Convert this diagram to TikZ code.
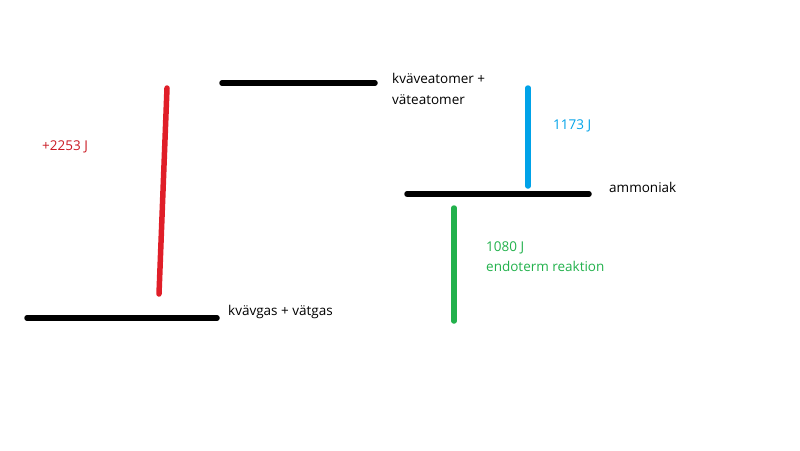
\documentclass[tikz,border=0pt]{standalone}
\usepackage{fontspec}
\setmainfont{Open Sans}
\definecolor{pred}{HTML}{E01E28}
\definecolor{pblue}{HTML}{00A2E8}
\definecolor{pgreen}{HTML}{22B14C}
\begin{document}
\begin{tikzpicture}[x=1pt,y=-1pt,
  level/.style={line width=5.5pt,line cap=round,black},
  stroke/.style={line width=5.5pt,line cap=round},
  lbl/.style={anchor=base west,inner sep=0pt,font=\fontsize{13.5}{16}\selectfont}]
\useasboundingbox (0,0) rectangle (800,450);
% levels
\coordinate (g1) at (27,318); \coordinate (g2) at (217,318);
\coordinate (a1) at (222,83); \coordinate (a2) at (375,83);
\coordinate (n1) at (407,194); \coordinate (n2) at (589,194);
\draw[level] (g1) -- (g2);
\draw[level] (a1) -- (a2);
\draw[level] (n1) -- (n2);
% transitions
\coordinate (r1) at (167,88); \coordinate (r2) at (159,294);
\coordinate (b1) at (528,88); \coordinate (b2) at (528,186);
\coordinate (e1) at (454,208); \coordinate (e2) at (454,321);
\draw[stroke,pred] (r1) -- (r2);
\draw[stroke,pblue] (b1) -- (b2);
\draw[stroke,pgreen] (e1) -- (e2);
% labels
\node[lbl] (lg) at (228,315) {kvävgas + vätgas};
\node[lbl] (la1) at (392,83) {kväveatomer +};
\node[lbl] (la2) at (392,104) {väteatomer};
\node[lbl] (ln) at (609,192) {ammoniak};
\node[lbl,text=pred!90!black] (lr) at (42,150) {+2253 J};
\node[lbl,text=pblue] (lb) at (553,129) {1173 J};
\node[lbl,text=pgreen] (le1) at (486,251) {1080 J};
\node[lbl,text=pgreen] (le2) at (486,271) {endoterm reaktion};
\end{tikzpicture}
\end{document}
